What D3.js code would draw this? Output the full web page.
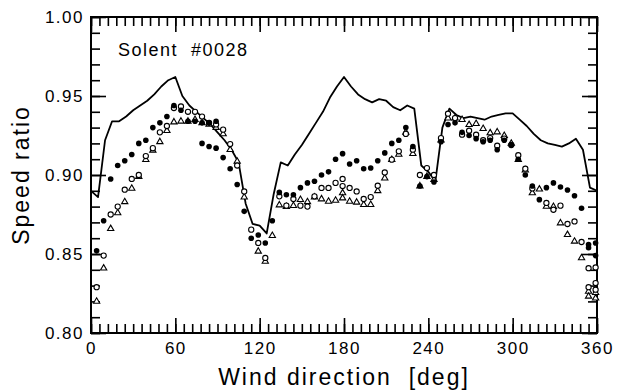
<!DOCTYPE html>
<html>
<head>
<meta charset="utf-8">
<script src="https://cdn.jsdelivr.net/npm/d3@7"></script>
<style>
  body { margin: 0; background: #fff; }
  text { font-family: "Liberation Sans", Arial, Helvetica, sans-serif; fill: #000; }
</style>
</head>
<body>
<div id="chart"></div>
<script>
// chart values
const lineDeg = [0, 5, 10, 15, 20, 25, 30, 35, 40, 45, 50, 55, 60, 65, 70, 75, 80, 85, 90, 95,
    100, 105, 110, 115, 120, 125, 130, 135, 140, 145, 150, 155, 160, 165, 170, 175, 180, 185,
    190, 195, 200, 205, 210, 215, 220, 225, 230, 235, 240, 245, 250, 255, 260, 265, 270, 275,
    280, 285, 290, 295, 300, 305, 310, 315, 320, 325, 330, 335, 340, 345, 350, 355, 360];
const lineVal = [0.890, 0.886, 0.922, 0.934, 0.934, 0.937, 0.941, 0.944, 0.947, 0.951, 0.956,
    0.960, 0.962, 0.950, 0.944, 0.940, 0.936, 0.932, 0.927, 0.922, 0.916, 0.908, 0.882, 0.869,
    0.868, 0.863, 0.888, 0.908, 0.906, 0.913, 0.919, 0.926, 0.933, 0.940, 0.949, 0.956, 0.962,
    0.956, 0.951, 0.948, 0.946, 0.948, 0.947, 0.943, 0.941, 0.944, 0.942, 0.906, 0.902, 0.896,
    0.930, 0.942, 0.938, 0.936, 0.937, 0.936, 0.935, 0.937, 0.938, 0.939, 0.939, 0.935, 0.931,
    0.926, 0.922, 0.920, 0.919, 0.918, 0.920, 0.923, 0.916, 0.892, 0.890];

// [direction, ratio]
const filledPts = [[4, 0.852], [9, 0.871], [14, 0.8975], [19, 0.906], [24, 0.909], [29, 0.913],
    [34, 0.920], [39, 0.922], [44, 0.930], [49, 0.933], [54, 0.937], [59, 0.944], [64, 0.941],
    [69, 0.934], [74, 0.934], [79, 0.933], [79, 0.920], [84, 0.933], [84, 0.918], [89, 0.934],
    [89, 0.917], [94, 0.911], [99, 0.904], [104, 0.894], [109, 0.877], [114, 0.860], [119, 0.862],
    [124, 0.857], [129, 0.871], [134, 0.889], [139, 0.8875], [144, 0.8875], [149, 0.892],
    [154, 0.895], [159, 0.896], [164, 0.900], [169, 0.902], [174, 0.910], [179, 0.9135],
    [184, 0.907], [189, 0.909], [194, 0.904], [199, 0.9044], [204, 0.909], [209, 0.914],
    [214, 0.920], [219, 0.922], [224, 0.930], [229, 0.918], [234, 0.893], [239, 0.899],
    [244, 0.8956], [249, 0.921], [254, 0.932], [259, 0.933], [264, 0.927], [269, 0.925],
    [274, 0.923], [279, 0.921], [284, 0.922], [289, 0.916], [294, 0.922], [299, 0.919],
    [304, 0.910], [309, 0.900], [314, 0.893], [319, 0.8844], [324, 0.892], [329, 0.895],
    [334, 0.8924], [339, 0.8905], [344, 0.8869], [349, 0.879], [354, 0.856], [354, 0.854],
    [359, 0.857], [359, 0.849]];

const openPts = [[4, 0.829], [9, 0.849], [14, 0.875], [19, 0.880], [24, 0.8907], [29, 0.8975],
    [34, 0.900], [39, 0.912], [44, 0.917], [49, 0.927], [54, 0.931], [59, 0.9424], [64, 0.9434],
    [69, 0.940], [74, 0.940], [79, 0.937], [84, 0.933], [89, 0.932], [94, 0.9287], [99, 0.9196],
    [104, 0.906], [109, 0.8896], [114, 0.8654], [119, 0.857], [124, 0.8475], [134, 0.8865],
    [139, 0.8806], [144, 0.8848], [149, 0.8806], [154, 0.880], [159, 0.8865], [164, 0.8918],
    [169, 0.8918], [174, 0.895], [179, 0.8975], [179, 0.893], [184, 0.8918], [189, 0.8896],
    [194, 0.8848], [199, 0.886], [204, 0.8932], [209, 0.9016], [214, 0.9097], [219, 0.915],
    [224, 0.926], [229, 0.916], [234, 0.900], [239, 0.9044], [244, 0.900], [249, 0.9234],
    [254, 0.9388], [259, 0.936], [264, 0.9255], [269, 0.928], [274, 0.9255], [279, 0.922],
    [284, 0.9234], [289, 0.9185], [294, 0.923], [299, 0.919], [304, 0.9125], [309, 0.904],
    [314, 0.8915], [324, 0.8823], [329, 0.878], [334, 0.8806], [339, 0.869], [344, 0.8706],
    [349, 0.8576], [354, 0.841], [354, 0.829], [359, 0.8415], [359, 0.8316], [359, 0.8274]];

const triPts = [[4, 0.820], [9, 0.841], [14, 0.866], [19, 0.876], [24, 0.883], [29, 0.8915],
    [34, 0.899], [39, 0.9097], [44, 0.9156], [49, 0.921], [54, 0.928], [59, 0.9335], [64, 0.934],
    [69, 0.934], [74, 0.935], [79, 0.933], [84, 0.932], [89, 0.930], [94, 0.926], [99, 0.916],
    [104, 0.9086], [109, 0.886], [119, 0.8517], [124, 0.8453], [129, 0.8616], [134, 0.881],
    [139, 0.880], [144, 0.8806], [149, 0.8844], [154, 0.883], [159, 0.886], [164, 0.8848],
    [169, 0.8833], [174, 0.8839], [179, 0.8886], [179, 0.8854], [184, 0.8833], [189, 0.8827],
    [194, 0.8812], [199, 0.8812], [204, 0.890], [209, 0.898], [214, 0.9097], [219, 0.913],
    [224, 0.927], [229, 0.9135], [234, 0.893], [239, 0.899], [244, 0.897], [249, 0.922],
    [254, 0.936], [259, 0.936], [264, 0.935], [269, 0.9318], [274, 0.9325], [279, 0.9293],
    [284, 0.9266], [289, 0.9272], [294, 0.9249], [299, 0.920], [304, 0.9097], [309, 0.903],
    [314, 0.8886], [319, 0.891], [324, 0.8801], [329, 0.880], [334, 0.8696], [339, 0.8622],
    [344, 0.858], [349, 0.8475], [354, 0.8263], [354, 0.8232], [359, 0.8255], [359, 0.822]];

const xMajor = [0, 60, 120, 180, 240, 300, 360];
const yMajor = [0.80, 0.85, 0.90, 0.95, 1.00];
const xMinor = d3.range(0, 361, 6);
const yMinor = d3.range(80, 101, 1).map(d => d / 100);

const width = 625, height = 391;
const margin = {top: 17, right: 28, bottom: 58, left: 91};

const svg = d3.select("#chart").append("svg")
    .attr("width", width)
    .attr("height", height);

const x = d3.scaleLinear().domain([0, 360]).range([margin.left, width - margin.right]);
const y = d3.scaleLinear().domain([0.80, 1.00]).range([height - margin.bottom, margin.top]);

const x0 = x.range()[0], x1 = x.range()[1], y0 = y.range()[0], y1 = y.range()[1];

// inward ticks on all four sides
function tickStyle(g) {
    g.select(".domain").remove();
    g.selectAll(".tick line").attr("stroke", "#000").attr("stroke-width", 1.6);
}

svg.append("g").attr("transform", "translate(0," + y0 + ")")
    .call(d3.axisBottom(x).tickValues(xMinor).tickSize(-9).tickFormat(""))
    .call(tickStyle);
svg.append("g").attr("transform", "translate(0," + y0 + ")")
    .call(d3.axisBottom(x).tickValues(xMajor).tickSize(-15).tickPadding(9).tickFormat(d3.format("d")))
    .call(tickStyle)
    .call(g => g.selectAll("text").attr("font-size", 17).attr("letter-spacing", 1.5));

svg.append("g").attr("transform", "translate(0," + y1 + ")")
    .call(d3.axisTop(x).tickValues(xMinor).tickSize(-9).tickFormat(""))
    .call(tickStyle);
svg.append("g").attr("transform", "translate(0," + y1 + ")")
    .call(d3.axisTop(x).tickValues(xMajor).tickSize(-15).tickFormat(""))
    .call(tickStyle);

svg.append("g").attr("transform", "translate(" + x0 + ",0)")
    .call(d3.axisLeft(y).tickValues(yMinor).tickSize(-9).tickFormat(""))
    .call(tickStyle);
svg.append("g").attr("transform", "translate(" + x0 + ",0)")
    .call(d3.axisLeft(y).tickValues(yMajor).tickSize(-15).tickPadding(7).tickFormat(d3.format(".2f")))
    .call(tickStyle)
    .call(g => g.selectAll("text").attr("font-size", 17).attr("letter-spacing", 1.5));

svg.append("g").attr("transform", "translate(" + x1 + ",0)")
    .call(d3.axisRight(y).tickValues(yMinor).tickSize(-9).tickFormat(""))
    .call(tickStyle);
svg.append("g").attr("transform", "translate(" + x1 + ",0)")
    .call(d3.axisRight(y).tickValues(yMajor).tickSize(-15).tickFormat(""))
    .call(tickStyle);

// frame
svg.append("rect")
    .attr("x", x0).attr("y", y1)
    .attr("width", x1 - x0).attr("height", y0 - y1)
    .attr("fill", "none").attr("stroke", "#000").attr("stroke-width", 2);

// solid line
const line = d3.line()
    .x((d, i) => x(lineDeg[i]))
    .y(d => y(d));

svg.append("path")
    .datum(lineVal)
    .attr("fill", "none")
    .attr("stroke", "#000")
    .attr("stroke-width", 1.8)
    .attr("stroke-linejoin", "round")
    .attr("d", line);

// markers
svg.selectAll(".tri")
    .data(triPts).enter()
    .append("path")
    .classed("tri", true)
    .attr("transform", d => "translate(" + x(d[0]) + "," + y(d[1]) + ")")
    .attr("d", d3.symbol().type(d3.symbolTriangle).size(17))
    .attr("fill", "#fff")
    .attr("stroke", "#000")
    .attr("stroke-width", 1.1);

svg.selectAll(".open")
    .data(openPts).enter()
    .append("circle")
    .classed("open", true)
    .attr("cx", d => x(d[0]))
    .attr("cy", d => y(d[1]))
    .attr("r", 2.6)
    .attr("fill", "#fff")
    .attr("stroke", "#000")
    .attr("stroke-width", 1.1);

svg.selectAll(".filled")
    .data(filledPts).enter()
    .append("circle")
    .classed("filled", true)
    .attr("cx", d => x(d[0]))
    .attr("cy", d => y(d[1]))
    .attr("r", 2.8)
    .attr("fill", "#000");

// labels
svg.append("text")
    .attr("x", 118)
    .attr("y", 56)
    .attr("font-size", 18)
    .attr("letter-spacing", 1.5)
    .style("white-space", "pre")
    .text("Solent  #0028");

svg.append("text")
    .attr("x", (x0 + x1) / 2)
    .attr("y", 385)
    .attr("text-anchor", "middle")
    .attr("font-size", 23)
    .attr("letter-spacing", 2)
    .style("white-space", "pre")
    .text("Wind direction  [deg]");

svg.append("text")
    .attr("transform", "translate(29," + ((y0 + y1) / 2) + ") rotate(-90)")
    .attr("text-anchor", "middle")
    .attr("font-size", 23)
    .attr("letter-spacing", 2)
    .text("Speed ratio");
</script>
</body>
</html>
